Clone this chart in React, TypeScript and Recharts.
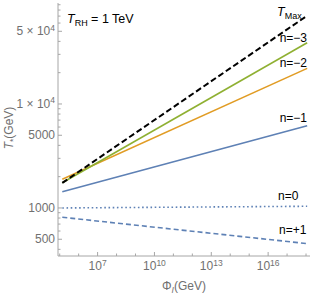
import React from 'react';
import { LineChart, Line, XAxis, YAxis, Label } from 'recharts';

// Φ_I (GeV) sample points (ends of each power-law line)
const phi = [1.37e5, 1.15e18];
// T_* (GeV) series
const tMax = [1740, 70600];
const nMinus3 = [1750, 38800];
const nMinus2 = [1890, 22000];
const nMinus1 = [1435, 6180];
const n0 = [1000, 1038];
const nPlus1 = [814, 454];

const xMajorTicks = [1e7, 1e10, 1e13, 1e16];
const xMinorTicks = [1e5, 1e6, 1e8, 1e9, 1e11, 1e12, 1e14, 1e15, 1e17, 1e18];
const yMajorTicks = [500, 1000, 5000, 10000, 50000];
const yMajorLabels = [['500', ''], ['1000', ''], ['5000', ''], ['1 × 10', '4'], ['5 × 10', '4']];
const yMinorTicks = [400, 600, 700, 800, 900, 2000, 3000, 4000, 6000, 7000, 8000, 9000, 20000, 30000, 40000, 60000, 70000, 80000, 90000];

const xDomain = [Math.pow(10, 4.91), Math.pow(10, 18.21)];
const yDomain = [Math.pow(10, 2.538), Math.pow(10, 4.971)];

const data = phi.map((p, i) => ({
  phi: p,
  tMax: tMax[i],
  nMinus3: nMinus3[i],
  nMinus2: nMinus2[i],
  nMinus1: nMinus1[i],
  n0: n0[i],
  nPlus1: nPlus1[i],
}));

const FRAME = '#a6a6a6';
const TICKTEXT = '#707070';
const FONT = '"Liberation Sans", Arial, sans-serif';
const BLUE = '#5e81b5';
const ORANGE = '#e19c24';
const GREEN = '#8fb032';

const allX = [...xMajorTicks, ...xMinorTicks].sort((a, b) => a - b);
const allY = [...yMajorTicks, ...yMinorTicks].sort((a, b) => a - b);

const isMajor = (arr: number[], v: number) => arr.some((m) => Math.abs(m - v) / m < 1e-6);

const BottomTick = (props: any) => {
  const { x, y, payload } = props;
  const v = payload.value;
  const major = isMajor(xMajorTicks, v);
  const exp = Math.round(Math.log10(v));
  return (
    <g>
      <line x1={x} x2={x} y1={y} y2={y - (major ? 4 : 2.5)} stroke={FRAME} strokeWidth={1} />
      {major && (
        <text x={x} y={y + 14} textAnchor="middle" fill={TICKTEXT} fontSize={12} fontFamily={FONT}>
          10
          <tspan dy={-4.5} fontSize={8.5}>
            {exp}
          </tspan>
        </text>
      )}
    </g>
  );
};

const TopTick = (props: any) => {
  const { x, y, payload } = props;
  const major = isMajor(xMajorTicks, payload.value);
  return <line x1={x} x2={x} y1={y} y2={y + (major ? 4 : 2.5)} stroke={FRAME} strokeWidth={1} />;
};

const LeftTick = (props: any) => {
  const { x, y, payload } = props;
  const v = payload.value;
  const idx = yMajorTicks.findIndex((m) => Math.abs(m - v) / m < 1e-6);
  const major = idx >= 0;
  return (
    <g>
      <line x1={x} x2={x + (major ? 4 : 2.5)} y1={y} y2={y} stroke={FRAME} strokeWidth={1} />
      {major && (
        <text x={x - 3} y={y + 4} textAnchor="end" fill={TICKTEXT} fontSize={12} fontFamily={FONT}>
          {yMajorLabels[idx][0]}
          {yMajorLabels[idx][1] && (
            <tspan dy={-4.5} fontSize={8.5}>
              {yMajorLabels[idx][1]}
            </tspan>
          )}
        </text>
      )}
    </g>
  );
};

const RightTick = (props: any) => {
  const { x, y, payload } = props;
  const major = isMajor(yMajorTicks, payload.value);
  return <line x1={x} x2={x - (major ? 4 : 2.5)} y1={y} y2={y} stroke={FRAME} strokeWidth={1} />;
};

const Annotations = () => (
  <g fontFamily={FONT} fill="#000">
    <text x={67} y={23} fontSize={12.5}>
      <tspan fontStyle="italic">T</tspan>
      <tspan fontSize={9} dy={3}>RH</tspan>
      <tspan dy={-3}> = 1 TeV</tspan>
    </text>
    <text x={277} y={16} fontSize={12.5}>
      <tspan fontStyle="italic">T</tspan>
      <tspan fontSize={9} dy={3}>Max</tspan>
    </text>
    <text x={307} y={42} fontSize={12} textAnchor="end">n=−3</text>
    <text x={307} y={67} fontSize={12} textAnchor="end">n=−2</text>
    <text x={307} y={122} fontSize={12} textAnchor="end">n=−1</text>
    <text x={278} y={200} fontSize={12}>n=0</text>
    <text x={279} y={234} fontSize={12}>n=+1</text>
    <text x={184} y={290} fontSize={12} textAnchor="middle" fill={TICKTEXT}>
      Φ<tspan fontSize={8.5} dy={3} fontStyle="italic">I</tspan>
      <tspan dy={-3}>(GeV)</tspan>
    </text>
    <text
      x={0}
      y={0}
      fontSize={12}
      textAnchor="middle"
      fill={TICKTEXT}
      transform="translate(13,128) rotate(-90)"
    >
      <tspan fontStyle="italic">T</tspan>
      <tspan fontSize={8.5} dy={3}>*</tspan>
      <tspan dy={-3}>(GeV)</tspan>
    </text>
  </g>
);

export default function App() {
  return (
    <div style={{ position: 'absolute', left: 0, top: 0, background: '#fff' }}>
      <LineChart width={315} height={295} data={data} margin={{ top: 3, right: 5, left: 0, bottom: 0 }}>
        <XAxis
          xAxisId="bottom"
          dataKey="phi"
          type="number"
          scale="log"
          domain={xDomain}
          allowDataOverflow
          ticks={allX}
          interval={0}
          tickLine={false}
          tickSize={0}
          tickMargin={0}
          tick={<BottomTick />}
          axisLine={{ stroke: FRAME }}
          height={39}
          orientation="bottom"
        >
          <Label content={<Annotations />} />
        </XAxis>
        <XAxis
          xAxisId="top"
          dataKey="phi"
          type="number"
          scale="log"
          domain={xDomain}
          allowDataOverflow
          ticks={allX}
          interval={0}
          tickLine={false}
          tickSize={0}
          tickMargin={0}
          tick={<TopTick />}
          axisLine={{ stroke: FRAME }}
          height={0}
          orientation="top"
        />
        <YAxis
          yAxisId="left"
          type="number"
          scale="log"
          domain={yDomain}
          allowDataOverflow
          ticks={allY}
          interval={0}
          tickLine={false}
          tickSize={0}
          tickMargin={0}
          tick={<LeftTick />}
          axisLine={{ stroke: FRAME }}
          width={58}
          orientation="left"
        />
        <YAxis
          yAxisId="right"
          type="number"
          scale="log"
          domain={yDomain}
          allowDataOverflow
          ticks={allY}
          interval={0}
          tickLine={false}
          tickSize={0}
          tickMargin={0}
          tick={<RightTick />}
          axisLine={{ stroke: FRAME }}
          width={0}
          orientation="right"
        />
        <Line xAxisId="top" yAxisId="right" dataKey="tMax" stroke="none" dot={false} isAnimationActive={false} />
        <Line xAxisId="bottom" yAxisId="left" dataKey="nPlus1" stroke={BLUE} strokeWidth={1.6} strokeDasharray="5 3" dot={false} isAnimationActive={false} />
        <Line xAxisId="bottom" yAxisId="left" dataKey="n0" stroke={BLUE} strokeWidth={1.6} strokeDasharray="1.6 2.6" dot={false} isAnimationActive={false} />
        <Line xAxisId="bottom" yAxisId="left" dataKey="nMinus1" stroke={BLUE} strokeWidth={1.6} dot={false} isAnimationActive={false} />
        <Line xAxisId="bottom" yAxisId="left" dataKey="nMinus2" stroke={ORANGE} strokeWidth={1.6} dot={false} isAnimationActive={false} />
        <Line xAxisId="bottom" yAxisId="left" dataKey="nMinus3" stroke={GREEN} strokeWidth={1.6} dot={false} isAnimationActive={false} />
        <Line xAxisId="bottom" yAxisId="left" dataKey="tMax" stroke="#000" strokeWidth={2} strokeDasharray="6 3" dot={false} isAnimationActive={false} />
      </LineChart>
    </div>
  );
}
